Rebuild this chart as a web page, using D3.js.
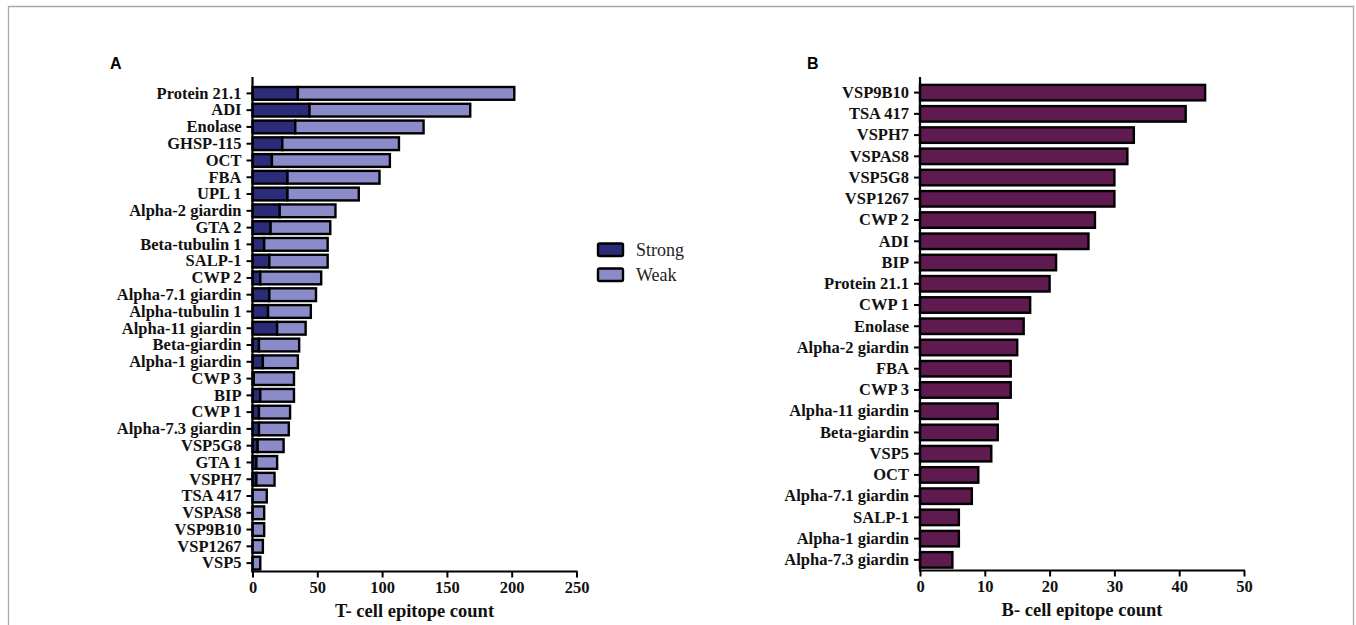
<!DOCTYPE html>
<html>
<head>
<meta charset="utf-8">
<script src="https://cdn.jsdelivr.net/npm/d3@7"></script>
<style>
  body { margin: 0; background: #fff; }
  svg { display: block; }
  .lbl { font-family: "Liberation Serif", "Times New Roman", serif; font-weight: bold; }
</style>
</head>
<body>
<script>
(function() {

  /* Panel A: T-cell epitopes, strong and weak binders */
  var tProteins = ["Protein 21.1", "ADI", "Enolase", "GHSP-115", "OCT", "FBA", "UPL 1",
    "Alpha-2 giardin", "GTA 2", "Beta-tubulin 1", "SALP-1", "CWP 2", "Alpha-7.1 giardin",
    "Alpha-tubulin 1", "Alpha-11 giardin", "Beta-giardin", "Alpha-1 giardin", "CWP 3", "BIP",
    "CWP 1", "Alpha-7.3 giardin", "VSP5G8", "GTA 1", "VSPH7", "TSA 417", "VSPAS8",
    "VSP9B10", "VSP1267", "VSP5"];
  var tStrong = [35, 44, 33, 23, 15, 27, 27, 21, 14, 9, 13, 6, 13, 12, 19, 5, 8, 1, 6, 5, 5, 4, 3, 3, 0, 0, 0, 0, 0];
  var tWeak   = [167, 124, 99, 90, 91, 71, 55, 43, 46, 49, 45, 47, 36, 33, 22, 31, 27, 31, 26, 24, 23, 20, 16, 14, 11, 9, 9, 8, 6];
  var tTicks = [0, 50, 100, 150, 200, 250];

  /* Panel B: B-cell epitopes */
  var bProteins = ["VSP9B10", "TSA 417", "VSPH7", "VSPAS8", "VSP5G8", "VSP1267", "CWP 2", "ADI",
    "BIP", "Protein 21.1", "CWP 1", "Enolase", "Alpha-2 giardin", "FBA", "CWP 3",
    "Alpha-11 giardin", "Beta-giardin", "VSP5", "OCT", "Alpha-7.1 giardin", "SALP-1",
    "Alpha-1 giardin", "Alpha-7.3 giardin"];
  var bCounts = [44, 41, 33, 32, 30, 30, 27, 26, 21, 20, 17, 16, 15, 14, 14, 12, 12, 11, 9, 8, 6, 6, 5];
  var bTicks = [0, 10, 20, 30, 40, 50];

  var legendKeys = ["Strong", "Weak"];
  var colors = { Strong: "#2b2b7a", Weak: "#8b8bc9", B: "#5f1a4f" };

  var svg = d3.select("body").append("svg")
      .attr("width", 1356)
      .attr("height", 625);

  // figure frame (top, left, right)
  svg.append("path")
      .attr("d", "M8.5,625V6.5H1353.5V625")
      .attr("fill", "none")
      .attr("stroke", "#a8a8a8")
      .attr("stroke-width", 1.3);

  // shared axis drawing
  function drawAxes(g, x, y, yTop, ticks, title) {
    var x0 = x.range()[0], x1 = x.range()[1];
    var yBot = y.range()[1];

    var xa = g.append("g")
        .attr("transform", "translate(0," + yBot + ")")
        .call(d3.axisBottom(x).tickValues(ticks).tickSize(6).tickPadding(4).tickSizeOuter(0));
    xa.select(".domain").remove();
    xa.selectAll("line").attr("stroke", "#000").attr("stroke-width", 2);
    xa.selectAll("text").attr("class", "lbl").attr("font-size", 16.5).attr("fill", "#111");
    xa.append("line")
        .attr("x1", x0 - 1).attr("x2", x1 + 1)
        .attr("stroke", "#000").attr("stroke-width", 2.2);

    var ya = g.append("g")
        .attr("transform", "translate(" + x0 + ",0)")
        .call(d3.axisLeft(y).tickSize(6).tickPadding(5).tickSizeOuter(0));
    ya.select(".domain").remove();
    ya.selectAll("line").attr("stroke", "#000").attr("stroke-width", 2);
    ya.selectAll("text").attr("class", "lbl").attr("font-size", 16.5).attr("fill", "#111");
    ya.append("line")
        .attr("y1", yTop).attr("y2", yBot + 1)
        .attr("stroke", "#000").attr("stroke-width", 2.2);

    g.append("text")
        .attr("class", "lbl")
        .attr("x", (x0 + x1) / 2)
        .attr("y", yBot + 45)
        .attr("text-anchor", "middle")
        .attr("font-size", 18.5)
        .attr("fill", "#111")
        .text(title);
  }

  /*
   *  P A N E L   A
   */
  var gA = svg.append("g");
  var xA = d3.scaleLinear().domain([0, 250]).range([252.5, 576.5]);
  var yA = d3.scaleBand().domain(tProteins).range([85, 571.5]).paddingInner(0.24).paddingOuter(0.12);

  var rowsA = tProteins.map(function(p, i) {
    return { name: p, Strong: tStrong[i], Weak: tWeak[i] };
  });
  var stack = d3.stack().keys(legendKeys)(rowsA);

  gA.selectAll(".series")
      .data(stack)
    .enter().append("g")
      .attr("class", "series")
      .attr("fill", function(d) { return colors[d.key]; })
    .selectAll("rect")
      .data(function(d) { return d; })
    .enter().append("rect")
      .attr("x", function(d) { return xA(d[0]); })
      .attr("y", function(d) { return yA(d.data.name); })
      .attr("width", function(d) { return xA(d[1]) - xA(d[0]); })
      .attr("height", yA.bandwidth())
      .attr("stroke", "#000")
      .attr("stroke-width", 2.4);

  drawAxes(gA, xA, yA, 77, tTicks, "T- cell epitope count");

  gA.append("text")
      .attr("x", 110).attr("y", 69)
      .attr("font-family", "Liberation Sans, Arial, sans-serif")
      .attr("font-weight", "bold")
      .attr("font-size", 16)
      .text("A");

  // legend
  var leg = gA.selectAll(".legend")
      .data(legendKeys)
    .enter().append("g")
      .attr("class", "legend")
      .attr("transform", function(d, i) { return "translate(598," + (243.5 + i * 25) + ")"; });
  leg.append("rect")
      .attr("width", 25).attr("height", 12.5)
      .attr("rx", 1.5)
      .attr("fill", function(d) { return colors[d]; })
      .attr("stroke", "#000")
      .attr("stroke-width", 2.4);
  leg.append("text")
      .attr("x", 38).attr("y", 12.5)
      .attr("font-family", "Liberation Serif, Times New Roman, serif")
      .attr("font-size", 18)
      .attr("fill", "#222")
      .text(function(d) { return d; });

  /*
   *  P A N E L   B
   */
  var gB = svg.append("g");
  var xB = d3.scaleLinear().domain([0, 50]).range([920, 1244]);
  var yB = d3.scaleBand().domain(bProteins).range([82, 570.5]).paddingInner(0.27).paddingOuter(0.135);

  gB.selectAll(".bar")
      .data(bCounts)
    .enter().append("rect")
      .attr("class", "bar")
      .attr("x", xB(0))
      .attr("y", function(d, i) { return yB(bProteins[i]); })
      .attr("width", function(d) { return xB(d) - xB(0); })
      .attr("height", yB.bandwidth())
      .attr("fill", colors.B)
      .attr("stroke", "#000")
      .attr("stroke-width", 2.4);

  drawAxes(gB, xB, yB, 77, bTicks, "B- cell epitope count");

  gB.append("text")
      .attr("x", 807).attr("y", 69)
      .attr("font-family", "Liberation Sans, Arial, sans-serif")
      .attr("font-weight", "bold")
      .attr("font-size", 16)
      .text("B");

})();
</script>
</body>
</html>
